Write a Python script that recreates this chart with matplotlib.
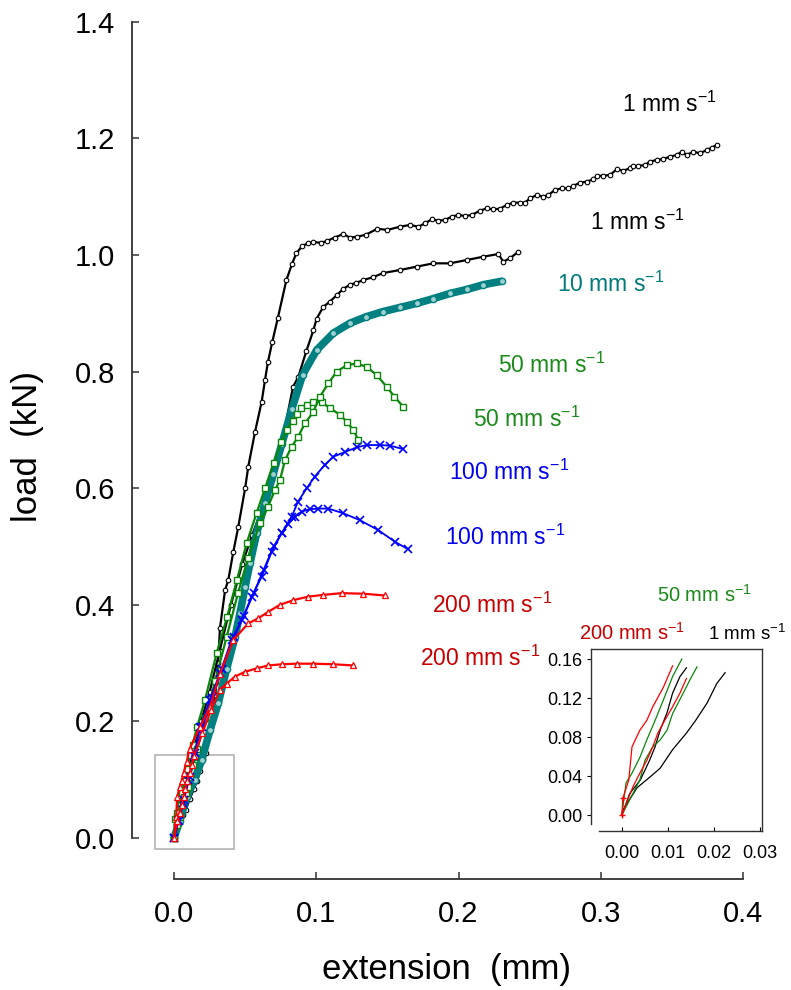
import matplotlib
matplotlib.use("Agg")
import matplotlib.pyplot as plt
from matplotlib.patches import Rectangle

plt.rcParams['font.family'] = ['Liberation Sans', 'DejaVu Sans']
plt.rcParams['mathtext.fontset'] = 'custom'
plt.rcParams['mathtext.rm'] = 'Liberation Sans'
plt.rcParams['mathtext.it'] = 'Liberation Sans'
plt.rcParams['mathtext.default'] = 'regular'

# ---- main panel data (extension mm, load kN) ----
black1_x = [0, 0.0033, 0.0061, 0.0083, 0.011, 0.014, 0.016, 0.0185, 0.0206, 0.0224, 0.026, 0.029,
            0.031, 0.0323, 0.0359, 0.0382, 0.0417, 0.0452, 0.050, 0.0522, 0.057, 0.0616, 0.064,
            0.066, 0.069, 0.073, 0.079, 0.083, 0.086, 0.090, 0.094, 0.098, 0.1035, 0.1075, 0.113,
            0.119, 0.1235, 0.1285, 0.135, 0.143, 0.150,
            0.1589, 0.1659, 0.1718, 0.1765, 0.1811, 0.1858, 0.1905, 0.1952, 0.1999, 0.2046, 0.2093,
            0.2151, 0.2198, 0.2245, 0.2292, 0.2339, 0.2385, 0.2432, 0.2467, 0.2503, 0.2550, 0.2596,
            0.2632, 0.2678, 0.2725, 0.2772, 0.2807, 0.2854, 0.2901, 0.2948, 0.2971, 0.3018, 0.3065,
            0.3112, 0.3159, 0.3206, 0.3229, 0.3264, 0.3311, 0.3346, 0.3393, 0.3440, 0.3487, 0.3534,
            0.3569, 0.3604, 0.3651, 0.3698, 0.3745, 0.3780, 0.3815]
black1_y = [0, 0.028, 0.039, 0.048, 0.067, 0.084, 0.097, 0.115, 0.135, 0.146, 0.19, 0.245,
            0.30, 0.36, 0.425, 0.443, 0.491, 0.534, 0.600, 0.637, 0.697, 0.748, 0.786,
            0.816, 0.85, 0.892, 0.957, 0.985, 1.003, 1.015, 1.02, 1.022, 1.021, 1.024, 1.03,
            1.036, 1.03, 1.031, 1.035, 1.045, 1.043,
            1.0486, 1.0515, 1.0486, 1.0543, 1.0612, 1.0589, 1.0600, 1.0658, 1.0686, 1.0669, 1.0686,
            1.0760, 1.0800, 1.0783, 1.0795, 1.0858, 1.0898, 1.0898, 1.0898, 1.0972, 1.1029, 1.1001,
            1.1029, 1.1115, 1.1143, 1.1143, 1.1184, 1.1241, 1.1258, 1.1298, 1.1355, 1.1361, 1.1372,
            1.1469, 1.1447, 1.1487, 1.1527, 1.1527, 1.1544, 1.1601, 1.1630, 1.1647, 1.1687, 1.1715,
            1.1772, 1.1715, 1.1772, 1.1744, 1.1801, 1.1841, 1.1887]

black2_x = [0, 0.0017, 0.004, 0.006, 0.0083, 0.0098, 0.011, 0.0126, 0.014, 0.019, 0.025, 0.032,
            0.040, 0.048, 0.055, 0.0626, 0.0687, 0.0766, 0.0837, 0.0874, 0.093, 0.098, 0.1003,
            0.105, 0.1095, 0.1144, 0.119, 0.1237, 0.128, 0.133, 0.140, 0.147, 0.1589, 0.1706,
            0.1823, 0.1940, 0.2058, 0.2175, 0.2280, 0.2315, 0.2362, 0.2421]
black2_y = [0, 0.022, 0.036, 0.056, 0.087, 0.105, 0.125, 0.142, 0.151, 0.2, 0.25, 0.32,
            0.40, 0.47, 0.52, 0.57, 0.614, 0.688, 0.774, 0.791, 0.835, 0.871, 0.891,
            0.911, 0.920, 0.931, 0.942, 0.949, 0.952, 0.957, 0.962, 0.969, 0.9743, 0.980,
            0.9857, 0.9857, 0.9914, 0.9971, 1.0017, 0.9886, 0.9943, 1.0057]

teal_x = [0, 0.004, 0.009, 0.0145, 0.0195, 0.0253, 0.0311, 0.037, 0.0429, 0.0464, 0.050, 0.0534,
          0.0581, 0.064, 0.0698, 0.0757, 0.0827, 0.0905, 0.1003, 0.112, 0.1237, 0.135, 0.147,
          0.1588, 0.1706, 0.182, 0.194, 0.206, 0.2174, 0.2303]
teal_y = [0, 0.03, 0.07, 0.10, 0.134, 0.185, 0.231, 0.29, 0.345, 0.386, 0.431, 0.471,
          0.523, 0.574, 0.625, 0.675, 0.735, 0.795, 0.837, 0.866, 0.883, 0.894, 0.903,
          0.910, 0.917, 0.925, 0.934, 0.941, 0.949, 0.955]

green1_x = [0, 0.0009, 0.0022, 0.0039, 0.0054, 0.0072, 0.009, 0.011, 0.013, 0.0162, 0.0218, 0.030,
            0.0373, 0.0443, 0.0511, 0.058, 0.064, 0.070, 0.0755, 0.0792, 0.0835, 0.0862, 0.0895,
            0.0932, 0.0979, 0.1038, 0.1097, 0.1167, 0.1214, 0.126, 0.1296]
green1_y = [0, 0.033, 0.043, 0.059, 0.077, 0.097, 0.118, 0.142, 0.16, 0.19, 0.237, 0.317,
            0.379, 0.443, 0.506, 0.557, 0.600, 0.643, 0.680, 0.700, 0.716, 0.728, 0.737,
            0.743, 0.748, 0.748, 0.737, 0.726, 0.714, 0.700, 0.683]

green2_x = [0, 0.0024, 0.0039, 0.005, 0.0067, 0.0083, 0.0098, 0.011, 0.0133, 0.0148, 0.0163, 0.022,
            0.029, 0.037, 0.045, 0.052, 0.0605, 0.066, 0.071, 0.0745, 0.078, 0.0827, 0.0872, 0.092,
            0.0979, 0.1026, 0.1085, 0.1144, 0.1214, 0.1284, 0.1355, 0.1425, 0.1495, 0.155, 0.161]
green2_y = [0, 0.022, 0.036, 0.056, 0.07, 0.077, 0.087, 0.104, 0.125, 0.139, 0.152, 0.205,
            0.27, 0.345, 0.42, 0.48, 0.540, 0.568, 0.597, 0.614, 0.648, 0.671, 0.688, 0.711,
            0.731, 0.757, 0.780, 0.800, 0.811, 0.814, 0.808, 0.794, 0.774, 0.757, 0.740]

blue1_x = [0, 0.003, 0.006, 0.010, 0.014, 0.0183, 0.0253, 0.0323, 0.0405, 0.0476, 0.0546, 0.0616,
           0.0687, 0.0757, 0.0827, 0.0872, 0.0933, 0.099, 0.106, 0.112, 0.120, 0.1284, 0.1355,
           0.1448, 0.1518, 0.1612]
blue1_y = [0, 0.03, 0.06, 0.10, 0.14, 0.19, 0.237, 0.283, 0.34, 0.374, 0.414, 0.448,
           0.491, 0.523, 0.551, 0.577, 0.600, 0.620, 0.640, 0.654, 0.662, 0.670, 0.674,
           0.674, 0.673, 0.667]

blue2_x = [0, 0.0035, 0.007, 0.011, 0.015, 0.020, 0.027, 0.034, 0.042, 0.049, 0.056, 0.063,
           0.070, 0.0757, 0.0804, 0.085, 0.0898, 0.0956, 0.1015, 0.1085, 0.119, 0.1308, 0.1436,
           0.1554, 0.1647]
blue2_y = [0, 0.03, 0.065, 0.105, 0.145, 0.19, 0.24, 0.29, 0.345, 0.38, 0.42, 0.46,
           0.50, 0.523, 0.539, 0.551, 0.560, 0.564, 0.565, 0.565, 0.557, 0.545, 0.528,
           0.508, 0.495]

red1_x = [0, 0.0015, 0.0022, 0.0039, 0.0054, 0.0067, 0.009, 0.011, 0.0183, 0.0253, 0.0323, 0.0417,
          0.0522, 0.0593, 0.0663, 0.0745, 0.0839, 0.0944, 0.105, 0.1179, 0.1331, 0.1483]
red1_y = [0, 0.036, 0.07, 0.087, 0.097, 0.111, 0.131, 0.153, 0.191, 0.225, 0.282, 0.34,
          0.368, 0.377, 0.388, 0.400, 0.408, 0.414, 0.417, 0.420, 0.419, 0.416]

red2_x = [0, 0.0024, 0.0039, 0.0054, 0.0067, 0.0078, 0.0093, 0.011, 0.0126, 0.014, 0.020, 0.026,
          0.0323, 0.037, 0.0429, 0.0499, 0.0581, 0.0663, 0.0757, 0.0862, 0.098, 0.112, 0.126]
red2_y = [0, 0.029, 0.043, 0.056, 0.07, 0.084, 0.097, 0.111, 0.125, 0.14, 0.18, 0.22,
          0.254, 0.265, 0.277, 0.285, 0.291, 0.296, 0.298, 0.299, 0.299, 0.298, 0.296]

# ---- inset data (first part of loading) ----
in_black1_x = [0, 0.0002, 0.0033, 0.0061, 0.0083, 0.011, 0.014, 0.016, 0.0185, 0.0206, 0.0224]
in_black1_y = [0, 0.005, 0.028, 0.039, 0.048, 0.067, 0.084, 0.097, 0.115, 0.135, 0.146]
in_black2_x = [0, 0.0017, 0.004, 0.006, 0.0072, 0.0083, 0.0098, 0.011, 0.0126, 0.014]
in_black2_y = [0, 0.022, 0.036, 0.056, 0.070, 0.087, 0.105, 0.125, 0.142, 0.151]
in_green1_x = [0, 0.0009, 0.0022, 0.0039, 0.0054, 0.0072, 0.009, 0.011, 0.013]
in_green1_y = [0, 0.033, 0.043, 0.059, 0.077, 0.097, 0.118, 0.142, 0.16]
in_green2_x = [0, 0.0024, 0.0039, 0.005, 0.0067, 0.0083, 0.0098, 0.011, 0.0133, 0.0148, 0.0163]
in_green2_y = [0, 0.022, 0.036, 0.056, 0.07, 0.077, 0.087, 0.104, 0.125, 0.139, 0.152]
in_red1_x = [0, 0.0002, 0.0015, 0.0022, 0.0039, 0.0054, 0.0067, 0.009, 0.011]
in_red1_y = [0, 0.017, 0.036, 0.07, 0.087, 0.097, 0.111, 0.131, 0.153]
in_red2_x = [0, 0.0024, 0.0039, 0.0054, 0.0067, 0.0078, 0.0093, 0.011, 0.0126, 0.014]
in_red2_y = [0, 0.029, 0.043, 0.056, 0.07, 0.084, 0.097, 0.111, 0.125, 0.14]

c_black = 'black'
c_teal = '#008080'
c_green = '#0a870a'
c_blue = '#0000ff'
c_red = '#ff0000'

fig = plt.figure(figsize=(7.91, 9.90), dpi=100)
ax = fig.add_axes([0.16688, 0.11212, 0.79393, 0.87273])

ax.plot(black1_x, black1_y, color=c_black, lw=1.6, marker='o', ms=3.3, mfc='white', mec=c_black, mew=0.8)
ax.plot(black2_x, black2_y, color=c_black, lw=1.6, marker='o', ms=3.3, mfc='white', mec=c_black, mew=0.8)
ax.plot(teal_x, teal_y, color=c_teal, lw=5.5, solid_capstyle='round')
ax.plot(teal_x, teal_y, color=c_teal, lw=0, marker='o', ms=4.5, mfc='#9fd0d0', mec=c_teal, mew=1.0)
ax.plot(green1_x, green1_y, color=c_green, lw=1.6, marker='s', ms=4.2, mfc='white', mec=c_green, mew=1.0)
ax.plot(green2_x, green2_y, color=c_green, lw=1.6, marker='s', ms=4.2, mfc='white', mec=c_green, mew=1.0)
ax.plot(blue1_x, blue1_y, color=c_blue, lw=1.3, marker='x', ms=5.5, mec=c_blue, mew=1.2)
ax.plot(blue2_x, blue2_y, color=c_blue, lw=1.3, marker='x', ms=5.5, mec=c_blue, mew=1.2)
ax.plot(red1_x, red1_y, color=c_red, lw=1.6, marker='^', ms=4.0, mfc='white', mec=c_red, mew=0.9)
ax.plot(red2_x, red2_y, color=c_red, lw=1.6, marker='^', ms=4.0, mfc='white', mec=c_red, mew=0.9)

# box showing the zoomed region
ax.add_patch(Rectangle((-0.0134, -0.019), 0.0554, 0.161, fill=False, ec='#b4b4b4', lw=1.2))

ax.set_xlim(-0.02953, 0.41195)
ax.set_ylim(-0.07033, 1.41166)
ax.spines['top'].set_visible(False)
ax.spines['right'].set_visible(False)
ax.spines['left'].set_bounds(0, 1.4)
ax.spines['bottom'].set_bounds(0, 0.4)
for s in ['left', 'bottom']:
    ax.spines[s].set_color('#333333')
    ax.spines[s].set_linewidth(1.3)
ax.set_xticks([0.0, 0.1, 0.2, 0.3, 0.4])
ax.set_yticks([0.0, 0.2, 0.4, 0.6, 0.8, 1.0, 1.2, 1.4])
ax.set_xticklabels(['0.0', '0.1', '0.2', '0.3', '0.4'])
ax.set_yticklabels(['0.0', '0.2', '0.4', '0.6', '0.8', '1.0', '1.2', '1.4'])
ax.tick_params(direction='in', length=5, width=1.1, color='#333333', labelsize=21)
ax.tick_params(axis='y', pad=12)
ax.tick_params(axis='x', pad=15)
ax.set_xlabel('extension  (mm)', fontsize=25, labelpad=18)
ax.set_ylabel('load  (kN)', fontsize=25, labelpad=22)

# curve labels
lab = r' mm s$^{-1}$'
ax.text(0.3149, 1.2453, '1' + lab, color='black', fontsize=16.5, va='baseline')
ax.text(0.2924, 1.0429, '1' + lab, color='black', fontsize=16.5, va='baseline')
ax.text(0.2690, 0.9370, '10' + lab, color='#007a7a', fontsize=16.5, va='baseline')
ax.text(0.2280, 0.7980, '50' + lab, color='#1a8a1a', fontsize=16.5, va='baseline')
ax.text(0.2100, 0.7056, '50' + lab, color='#1a8a1a', fontsize=16.5, va='baseline')
ax.text(0.1933, 0.6150, '100' + lab, color='#0000ee', fontsize=16.5, va='baseline')
ax.text(0.1905, 0.5026, '100' + lab, color='#0000ee', fontsize=16.5, va='baseline')
ax.text(0.1811, 0.3865, '200' + lab, color='#c80000', fontsize=16.5, va='baseline')
ax.text(0.1730, 0.2950, '200' + lab, color='#c80000', fontsize=16.5, va='baseline')

# ---- inset ----
ins = fig.add_axes([0.74716, 0.16061, 0.21618, 0.18384])
ins.plot(in_black1_x, in_black1_y, color=c_black, lw=0.9)
ins.plot(in_black2_x, in_black2_y, color=c_black, lw=0.9)
ins.plot(in_green1_x, in_green1_y, color=c_green, lw=0.9)
ins.plot(in_green2_x, in_green2_y, color=c_green, lw=0.9)
ins.plot(in_red1_x, in_red1_y, color=c_red, lw=0.9)
ins.plot(in_red2_x, in_red2_y, color=c_red, lw=0.9)
ins.plot(in_red1_x[:2], in_red1_y[:2], color=c_red, lw=0, marker='+', ms=4)
ins.set_xlim(-0.0067, 0.0304)
ins.set_ylim(-0.0164, 0.1703)
ins.spines['left'].set_bounds(-0.0092, 0.1703)
ins.spines['bottom'].set_bounds(-0.005, 0.0304)
for s in ins.spines.values():
    s.set_color('#333333')
    s.set_linewidth(1.0)
ins.set_xticks([0.0, 0.01, 0.02, 0.03])
ins.set_xticklabels(['0.00', '0.01', '0.02', '0.03'])
ins.set_yticks([0.0, 0.04, 0.08, 0.12, 0.16])
ins.set_yticklabels(['0.00', '0.04', '0.08', '0.12', '0.16'])
ins.tick_params(axis='x', direction='in', length=3, labelsize=13, pad=10)
ins.tick_params(axis='y', direction='out', length=3, labelsize=13, pad=3)

fig.text(0.8310, 0.3922, '50' + lab, color='#1a8a1a', fontsize=14.5, va='baseline')
fig.text(0.7320, 0.3535, '200' + lab, color='#c80000', fontsize=14.5, va='baseline')
fig.text(0.8950, 0.3535, '1' + lab, color='black', fontsize=13.5, va='baseline')

fig.savefig('out.png', dpi=100)
